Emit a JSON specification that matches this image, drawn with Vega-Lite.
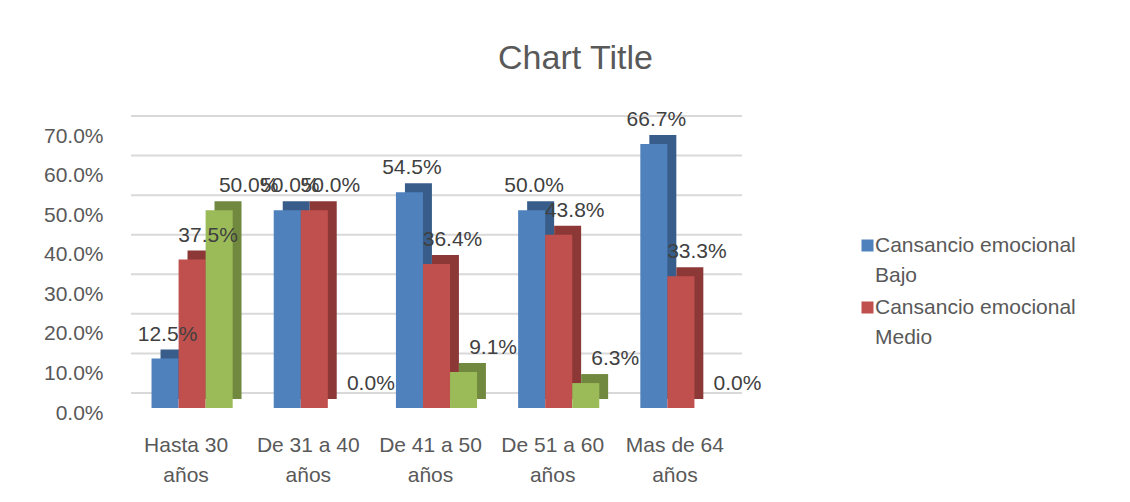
{
  "$schema": "https://vega.github.io/schema/vega-lite/v6.json",
  "width": 611,
  "height": 277,
  "autosize": {"type": "none"},
  "padding": {"left": 131, "top": 131, "right": 388, "bottom": 94},
  "background": "white",
  "title": {"text": "Chart Title", "fontSize": 34, "fontWeight": "normal", "color": "#595959", "font": "Liberation Sans", "dx": 139, "offset": 33},
  "config": {
    "font": "Liberation Sans",
    "view": {"stroke": null},
    "axisX": {"title": null, "domain": false, "ticks": false, "grid": false, "labelAngle": 0, "labelFontSize": 21, "labelColor": "#595959", "labelPadding": 37, "labelLineHeight": 30, "labelOffset": -6, "labelBaseline": "middle"},
    "axisY": {"title": null, "domain": false, "ticks": false, "grid": false, "labelFontSize": 21, "labelColor": "#595959", "labelPadding": 28, "labelOffset": 5}
  },
  "datasets": {
    "bars": [
      {"cat": "Hasta 30 años", "serie": "Cansancio emocional Bajo", "value": 0.125},
      {"cat": "Hasta 30 años", "serie": "Cansancio emocional Medio", "value": 0.375},
      {"cat": "Hasta 30 años", "serie": "Cansancio emocional Alto", "value": 0.5},
      {"cat": "De 31 a 40 años", "serie": "Cansancio emocional Bajo", "value": 0.5},
      {"cat": "De 31 a 40 años", "serie": "Cansancio emocional Medio", "value": 0.5},
      {"cat": "De 31 a 40 años", "serie": "Cansancio emocional Alto", "value": 0},
      {"cat": "De 41 a 50 años", "serie": "Cansancio emocional Bajo", "value": 0.545},
      {"cat": "De 41 a 50 años", "serie": "Cansancio emocional Medio", "value": 0.364},
      {"cat": "De 41 a 50 años", "serie": "Cansancio emocional Alto", "value": 0.091},
      {"cat": "De 51 a 60 años", "serie": "Cansancio emocional Bajo", "value": 0.5},
      {"cat": "De 51 a 60 años", "serie": "Cansancio emocional Medio", "value": 0.438},
      {"cat": "De 51 a 60 años", "serie": "Cansancio emocional Alto", "value": 0.063},
      {"cat": "Mas de 64 años", "serie": "Cansancio emocional Bajo", "value": 0.667},
      {"cat": "Mas de 64 años", "serie": "Cansancio emocional Medio", "value": 0.333},
      {"cat": "Mas de 64 años", "serie": "Cansancio emocional Alto", "value": 0}
    ],
    "grid": [
      {"t": 0}, {"t": 0.1}, {"t": 0.2}, {"t": 0.3}, {"t": 0.4}, {"t": 0.5}, {"t": 0.6}, {"t": 0.7}
    ]
  },
  "resolve": {"scale": {"color": "independent", "xOffset": "independent"}},
  "layer": [
    {
      "data": {"name": "grid"},
      "mark": {"type": "rule", "color": "#D9D9D9", "strokeWidth": 2, "yOffset": -15},
      "encoding": {
        "y": {"field": "t", "type": "quantitative", "scale": {"domain": [0, 0.7]},
          "axis": {"format": ".1%", "values": [0, 0.1, 0.2, 0.3, 0.4, 0.5, 0.6, 0.7]}}
      }
    },
    {
      "data": {"name": "bars"},
      "mark": {"type": "bar", "yOffset": -9},
      "encoding": {
        "x": {"field": "cat", "type": "nominal", "sort": null, "scale": {"paddingInner": 0.336, "paddingOuter": 0.168},
          "axis": {"labelExpr": "[slice(datum.label, 0, lastindexof(datum.label, ' ')), slice(datum.label, lastindexof(datum.label, ' ') + 1)]"}},
        "xOffset": {"field": "serie", "type": "nominal", "scale": {"domain": ["Cansancio emocional Bajo", "Cansancio emocional Medio", "Cansancio emocional Alto"], "range": [9, 90], "paddingInner": 0, "paddingOuter": 0}},
        "y": {"field": "value", "type": "quantitative", "scale": {"domain": [0, 0.7]},
          "axis": {"format": ".1%", "values": [0, 0.1, 0.2, 0.3, 0.4, 0.5, 0.6, 0.7]}},
        "color": {"field": "serie", "type": "nominal", "legend": null, "scale": {"domain": ["Cansancio emocional Bajo", "Cansancio emocional Medio", "Cansancio emocional Alto"], "range": ["#385D8A", "#8C3836", "#71893F"]}}
      }
    },
    {
      "data": {"name": "bars"},
      "mark": {"type": "bar"},
      "encoding": {
        "x": {"field": "cat", "type": "nominal", "sort": null,
          "axis": {"labelExpr": "[slice(datum.label, 0, lastindexof(datum.label, ' ')), slice(datum.label, lastindexof(datum.label, ' ') + 1)]"}},
        "xOffset": {"field": "serie", "type": "nominal", "scale": {"domain": ["Cansancio emocional Bajo", "Cansancio emocional Medio", "Cansancio emocional Alto"], "paddingInner": 0, "paddingOuter": 0}},
        "y": {"field": "value", "type": "quantitative",
          "axis": {"format": ".1%", "values": [0, 0.1, 0.2, 0.3, 0.4, 0.5, 0.6, 0.7]}},
        "color": {"field": "serie", "type": "nominal",
          "scale": {"domain": ["Cansancio emocional Bajo", "Cansancio emocional Medio", "Cansancio emocional Alto"], "range": ["#4F81BD", "#C0504D", "#9BBB59"]},
          "legend": {"title": null, "values": ["Cansancio emocional Bajo", "Cansancio emocional Medio"], "orient": "none", "legendX": 726, "legendY": 104, "symbolType": "square", "symbolSize": 144, "symbolStrokeWidth": 0, "labelFontSize": 21, "labelColor": "#595959", "labelLimit": 400, "rowPadding": 10, "labelOffset": -3,
            "labelExpr": "['Cansancio emocional', replace(datum.label, 'Cansancio emocional ', '')]",
            "encode": {"labels": {"update": {"lineHeight": {"value": 30}}}}}}
      }
    },
    {
      "data": {"name": "bars"},
      "mark": {"type": "text", "fontSize": 21, "color": "#404040", "baseline": "middle", "dy": -24, "dx": 16},
      "encoding": {
        "x": {"field": "cat", "type": "nominal", "sort": null,
          "axis": {"labelExpr": "[slice(datum.label, 0, lastindexof(datum.label, ' ')), slice(datum.label, lastindexof(datum.label, ' ') + 1)]"}},
        "xOffset": {"field": "serie", "type": "nominal", "scale": {"domain": ["Cansancio emocional Bajo", "Cansancio emocional Medio", "Cansancio emocional Alto"], "paddingInner": 0, "paddingOuter": 0}},
        "y": {"field": "value", "type": "quantitative",
          "axis": {"format": ".1%", "values": [0, 0.1, 0.2, 0.3, 0.4, 0.5, 0.6, 0.7]}},
        "text": {"field": "value", "type": "quantitative", "format": ".1%"}
      }
    }
  ]
}
